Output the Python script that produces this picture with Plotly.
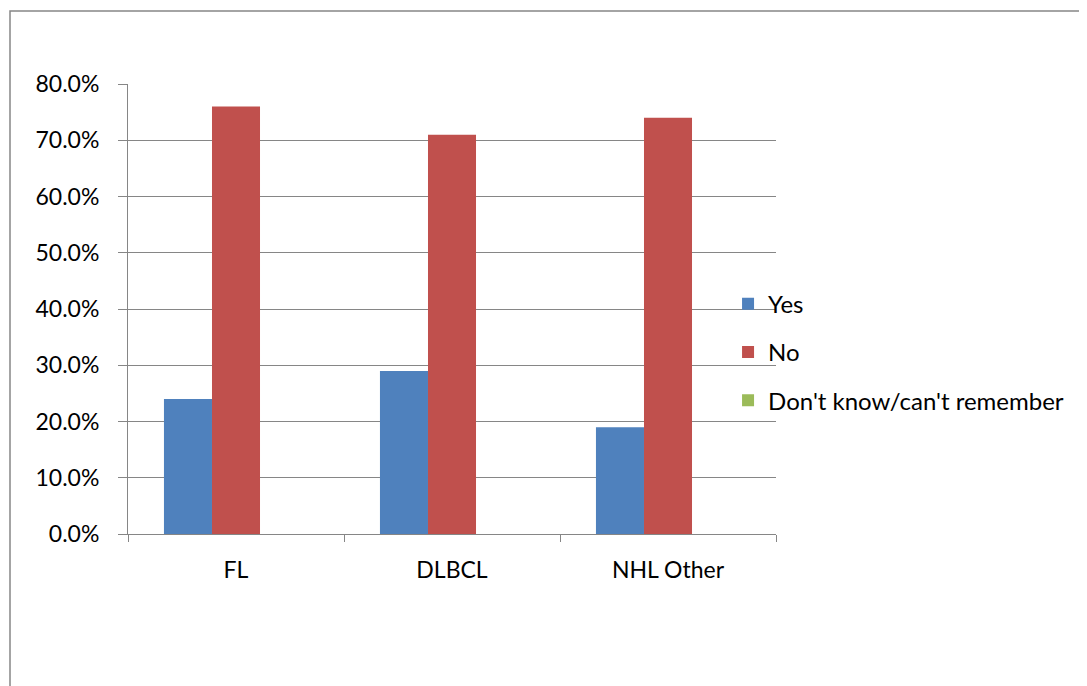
import plotly.graph_objects as go

# chart data
categories = ['FL', 'DLBCL', 'NHL Other']
yes_vals = [0.24, 0.29, 0.19]
no_vals = [0.76, 0.71, 0.74]
dont_know_vals = [0.0, 0.0, 0.0]

series = [
    ('Yes', yes_vals, '#4F81BD'),
    ('No', no_vals, '#C0504D'),
    ("Don't know/can't remember", dont_know_vals, '#9BBB59'),
]

FONT = 'Lato, "Open Sans", sans-serif'
GRID = '#868686'

fig = go.Figure()
for name, vals, color in series:
    fig.add_trace(go.Bar(
        x=categories,
        y=vals,
        name=name,
        legendgroup=name,
        marker=dict(color=color, line=dict(width=0)),
    ))

# the page body adds an 8px offset, so the figure is 8px smaller
fig.update_layout(
    width=1079,
    height=678,
    margin=dict(l=120, r=311, t=76, b=152),
    paper_bgcolor='white',
    plot_bgcolor='white',
    barmode='group',
    bargap=0.333,
    bargroupgap=0,
    font=dict(family=FONT, size=23, color='black'),
    showlegend=True,
    legend=dict(
        x=0.926, xanchor='left',
        y=0.404, yanchor='middle',
        font=dict(family=FONT, size=24, color='black'),
        tracegroupgap=14,
        bgcolor='rgba(0,0,0,0)',
    ),
    xaxis=dict(
        showline=True, linecolor=GRID, linewidth=1,
        ticks='outside', tickson='boundaries', ticklen=7, tickcolor=GRID,
        ticklabelstandoff=15,
        showgrid=False,
    ),
    yaxis=dict(
        range=[0, 0.8], dtick=0.1, tickformat='.1%',
        showline=True, linecolor=GRID, linewidth=1,
        ticks='outside', ticklen=9, tickcolor=GRID,
        ticklabelstandoff=14,
        showgrid=True, gridcolor=GRID, gridwidth=1,
        zeroline=False,
    ),
)

# outer chart border (only left and top edges visible in the frame)
fig.add_shape(
    type='rect', xref='paper', yref='paper',
    x0=(2 - 120) / 648, x1=2.0,
    y0=-1.0, y1=(450 + 76 - 3) / 450,
    line=dict(color=GRID, width=1.5),
    layer='below',
)

fig.write_html('out.html')
